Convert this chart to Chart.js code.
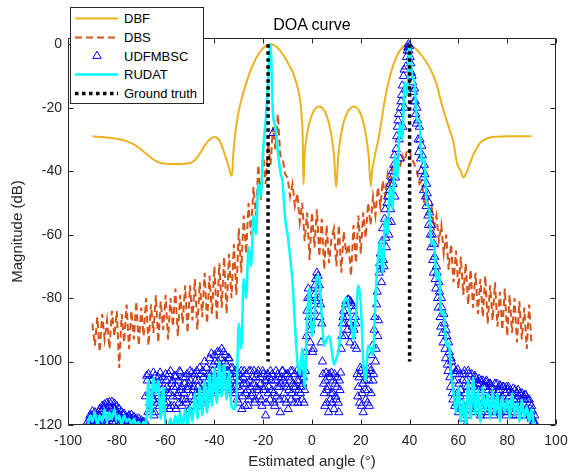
<!DOCTYPE html>
<html>
<head>
<meta charset="utf-8">
<script src="https://cdn.jsdelivr.net/npm/chart.js@4.4.0/dist/chart.umd.min.js"></script>
<style>
  html, body { margin: 0; padding: 0; background: #fff; }
  #wrap { position: relative; width: 568px; height: 472px; }
  #title { position: absolute; left: 212px; top: 15px; width: 200px; text-align: center;
           font: 16px 'Liberation Sans', Arial, sans-serif; line-height: 20px; color: #000; }
  #legend { position: absolute; left: 70px; top: 7px; width: 134px; height: 97px; box-sizing: border-box;
            border: 1px solid #262626; background: #fff; }
  #legend text { font: 13px 'Liberation Sans', Arial, sans-serif; fill: #000; }
</style>
</head>
<body>
<div id="wrap">
  <canvas id="doa" width="568" height="472"></canvas>
  <div id="title">DOA curve</div>
  <div id="legend">
    <svg width="132" height="95">
      <line x1="4" y1="10.5" x2="47" y2="10.5" stroke="#EDB120" stroke-width="2"/>
      <text x="53" y="10.5" dominant-baseline="central">DBF</text>
      <line x1="4" y1="29.5" x2="47" y2="29.5" stroke="#D95319" stroke-width="2" stroke-dasharray="7 4"/>
      <text x="53" y="29.5" dominant-baseline="central">DBS</text>
      <polygon points="26,43.2 21.8,50.4 30.2,50.4" fill="none" stroke="#0000FF" stroke-width="1"/>
      <text x="53" y="48" dominant-baseline="central">UDFMBSC</text>
      <line x1="4" y1="66.5" x2="47" y2="66.5" stroke="#00FFFF" stroke-width="2.5"/>
      <text x="53" y="66.5" dominant-baseline="central">RUDAT</text>
      <line x1="4" y1="85.5" x2="47" y2="85.5" stroke="#000" stroke-width="3.5" stroke-dasharray="3.5 3.5"/>
      <text x="53" y="85.5" dominant-baseline="central">Ground truth</text>
    </svg>
  </div>
</div>
<script>
// axis ticks
const xTicks = [-100, -80, -60, -40, -20, 0, 20, 40, 60, 80, 100];
const yTicks = [-120, -100, -80, -60, -40, -20, 0];

// DBF: angle / magnitude (dB)
const dbfAngle = [-90,-85,-80,-76,-72,-68,-65,-62,-56,-50,-48,-46,-44,-42,-40,-38,-36.5,-35,-34,-33.3,
  -32.8,-32.3,-31.6,-30.6,-29.6,-27.5,-25.5,-23,-20.5,-18.5,-17,-15.5,-13.5,-11,-9.5,-7.8,-6.3,-4.9,-4.2,-3.8,
  -3.5,-3,-2.2,-1,0.5,3,5.3,6.8,8,9,9.9,10.8,11.8,13,14.7,17.2,19.5,21,22.2,23.2,
  24.1,24.6,25.2,26.2,27.2,28.5,29.5,30.7,32.5,34.8,37,39,41,43,45,47,48.6,51,53.4,56,
  58,59.4,61,62,63,64.5,66,69,72,76,80,90];
const dbfMag = [-29,-29.3,-29.8,-30.5,-32,-34.5,-36.3,-37.4,-37.7,-37.4,-36.5,-34.5,-32,-30,-29.2,-30.2,-33,-36.5,-39,-41,
  -41.4,-35,-29,-23.5,-19.5,-13.5,-8.9,-4.5,-1.6,-0.3,0,-0.3,-1.6,-4.3,-6.4,-8.9,-12.5,-17.4,-23,-30,
  -44.2,-35,-29,-24.5,-21.3,-19.6,-21.2,-24.5,-29,-35,-45,-35,-29,-24.5,-21.2,-19.6,-21.2,-24.5,-29,-35,
  -44.7,-40,-37.5,-33.5,-30,-24,-19,-14.2,-8.5,-3.7,-1,0,-0.5,-1.8,-3.6,-5.8,-7.9,-12.5,-19.5,-26,
  -31,-37.4,-40,-42,-41,-38,-35,-31,-29.6,-29.1,-29,-29];

// DBS: one value per degree, -90 .. 90
const dbsMag = [
  -88,-95,-86,-97,-85,-93,-87,-96,-84,-92,
  -84,-102,-85,-94,-82,-96,-84,-93,-81,-95,
  -83,-92,-80,-95,-82,-91,-79,-94,-81,-90,
  -79,-93,-80,-89,-77,-92,-79,-88,-76,-91,
  -76,-87,-74,-90,-75,-86,-72,-88,-73,-85,
  -70,-87,-69,-83,-67,-85,-66,-80,-63,-79,
  -58,-72,-54,-66,-50,-60,-45,-54,-38,-49,
  -34,-44,-31,-38,-26,-33,-22,-35,-36,-41,
  -42,-48,-44,-51,-47,-56,-50,-62,-53,-68,
  -53,-64,-52,-67,-55,-71,-57,-69,-61,-58,
  -70,-57,-72,-59,-66,-63,-73,-57,-69,-54,
  -66,-53,-61,-50,-57,-48,-54,-45,-51,-43,
  -48,-41,-45,-38,-42,-37,-39,-35,-37,-33,
  -34,-36,-38,-40,-44,-43,-50,-47,-55,-51,
  -58,-54,-62,-57,-66,-60,-71,-63,-75,-65,
  -77,-67,-79,-69,-82,-71,-83,-72,-85,-74,
  -86,-73,-88,-76,-87,-75,-89,-78,-90,-77,
  -92,-79,-91,-80,-94,-81,-93,-83,-96,-82,
  -95];

// UDFMBSC: one value per half degree, -92 .. 92
const udfMag = [
  -119,-120,-117,-119.5,-115.7,-119,-116,-118.5,-116.5,-120,
  -115,-118,-114,-117.5,-113.5,-119,-113,-116,-112.8,-118,
  -112.7,-116.5,-113.2,-119,-114,-117,-115,-119.5,-116,-118.5,
  -116.5,-119.5,-117.5,-120,-117,-119,-116.8,-120,-117.5,-119.5,
  -118,-120,-118,-119.5,-118.5,-120,-119,-120,-119.5,-106,
  -104,-113,-108,-111,-103.5,-116,-107,-110,-105,-114,
  -106,-109,-111,-113,-104,-108,-110,-115,-103,-107,
  -111,-114,-105,-108,-110,-113,-103.5,-108,-112,-110,
  -105,-113,-109,-107,-103,-111,-114,-108,-104,-110,
  -112,-106,-102,-109,-113,-105,-100,-108,-111,-104,
  -99,-107,-110,-101,-98,-105,-109,-100,-97,-104,
  -96,-102,-108,-98,-101,-106,-99,-104,-109,-102,
  -105,-110,-104,-108,-113,-106,-103,-111,-107,-114,
  -104,-109,-112,-106,-103,-110,-107,-113,-105,-109,
  -103,-111,-107,-114,-104,-108,-117,-106,-110,-105,
  -103,-109,-28,-113,-106,-111,-104,-108,-116,-105,
  -103,-110,-107,-113,-104,-109,-106,-112,-103,-108,
  -104,-111,-106,-109,-103.5,-108,-112,-105,-109,-97,
  -84,-77,-80,-90,-86,-96,-79,-74,-72,-73,
  -76,-82,-88,-104,-110,-106,-113,-108,-104,-112,
  -103.5,-110,-115,-107,-112,-105,-116,-109,-96,-88,
  -84,-92,-81,-90,-80.5,-94,-81.5,-89,-84,-95,
  -88,-104,-108,-113,-103,-110,-116,-106,-112,-104,
  -109,-114,-103,-98,-106,-90,-100,-82,-92,-72,
  -66,-75,-58,-70,-52,-64,-48,-60,-44,-56,
  -40,-38,-48,-33,-26,-22,-36,-18,-13,-10,
  -20,-7,-2,0,-0.5,-6,-10,-15,-14,-22,
  -20,-30,-26,-36,-32,-42,-38,-48,-44,-54,
  -50,-60,-57,-68,-63,-74,-70,-80,-75,-86,
  -80,-91,-85,-96,-90,-101,-94,-105,-99,-110,
  -102,-114,-103,-110,-116,-104,-109,-113,-118,-103,
  -120,-108,-103,-114,-110,-104,-116,-108,-105,-113,
  -109,-105.5,-117,-110,-106,-114,-108,-106,-116,-111,
  -107,-114,-109,-117,-107,-112,-115,-109,-107.5,-116,
  -111,-108,-114,-117,-109,-108,-113,-116,-110,-108.5,
  -114,-117,-110,-109,-115,-112,-110,-117,-112,-110.5,
  -115,-117,-112,-116,-114,-118,-119,-120,null];

// UDFMBSC: second set, on the quarter-degree offsets, -91.75 .. 91.75
const udfMagB = [
  -120,-118,-120,-117,-119.5,-118,-120,-117.5,-119,-117,
  -119,-115.5,-120,-114.5,-118,-116,-119.5,-114,-117,-115,
  -119,-114.5,-118,-115.5,-120,-116.5,-118,-117.5,-120,-117,
  -120,-118,-119.5,-117.5,-120,-118,-119,-118.5,-120,-118.5,
  -120,-119,-120,-119.5,-120,-119.5,-120,-111,-104.5,-116,
  -110,-115,-106,-112,-117,-104.5,-109,-113,-107,-103.5,
  -112,-105,-115,-109,-106,-113,-104,-110,-114,-106,
  -108,-104.5,-115,-111,-106,-103,-109,-114,-105,-107,
  -112,-104,-108,-115,-106,-103.5,-109,-112,-106,-103,
  -108,-114,-104,-110,-103,-107,-112,-102,-106,-109,
  -104,-97.5,-103,-108,-100,-106,-97,-102,-107,-99,
  -104,-97,-100,-105,-103,-99,-107,-102,-106,-110,
  -108,-103,-112,-106,-104,-109,-115,-105,-103,-110,
  -107,-114,-103,-108,-111,-105,-103,-112,-108,-104,
  -109,-105,-112,-103,-109,-106,-113,-104,-108,-112,
  -106,-104,-110,-114,-103,-108,-105,-112,-107,-103,
  -106,-112,-104,-108,-115,-105,-103,-110,-107,-113,
  -108,-103,-113,-106,-110,-104,-107,-113,-103,-92,
  -80,-86,-94,-88,-97,-84,-76,-81,-77,-80,
  -86,-94,-100,-107,-114,-103.5,-109,-116,-105,-110,
  -113,-106,-104,-111,-108,-113,-106,-103.5,-92,-86,
  -88,-82,-86,-80.5,-88,-81,-92,-82.5,-90,-86,
  -96,-111,-105,-102,-114,-107,-104,-109,-103,-113,
  -106,-102,-110,-95,-104,-86,-96,-78,-87,-69,
  -71,-62,-68,-55,-61,-50,-56,-46,-52,-42,
  -44,-35,-42,-29,-24,-30,-20,-16,-26,-8,
  -14,-4,-1,-2,-4,-9,-12,-18,-18,-25,
  -24,-34,-30,-40,-35,-46,-41,-51,-47,-57,
  -53,-64,-60,-72,-67,-77,-72,-83,-78,-89,
  -83,-94,-88,-99,-92,-103,-97,-108,-100,-112,
  -106,-104,-113,-102.5,-107,-111,-115,-106,-104,-110,
  -106,-117,-104,-108,-113,-106,-111,-104.5,-115,-107,
  -113,-107,-106,-115,-108,-112,-106.5,-117,-109,-107,
  -111,-108,-116,-110,-113,-107,-110,-116,-108,-112,
  -108,-115,-110,-108,-116,-111,-109,-114,-117,-112,
  -109,-112,-116,-111,-110,-114,-117,-111,-110.5,-115,
  -112,-116,-113,-118,-115.5,-119,-117,-120];

// RUDAT: one value per degree, -92 .. 92
const rudatMag = [
  -121,-117,-119,-116,-120,-117,-119,-115,-119,-116,
  -118,-115,-119,-117,-120,-117,-119,-118,-120,-118,
  -120,-119,-121,-119,-120,-106,-118,-105,-110,-106,
  -118,-108,-120,-121,-118,-121,-117,-121,-116,-121,
  -115,-120,-114,-119,-110,-118,-108,-117,-106,-116,
  -104,-114,-102,-113,-100,-111,-101,-112,-103,-114,
  -115,-112,-88,-96,-74,-80,-64,-70,-54,-60,
  -44,-48,-33,-24,-12,0,-22,-26,-34,-40,
  -44,-55,-60,-67,-75,-88,-100,-104,-96,-108,
  -86,-77,-92,-86,-73,-74,-86,-95,-93,-92,
  -96,-101,-99,-96,-88,-82,-80,-82,-88,-93,
  -86,-76,-82,-100,-106,-95,-96,-98,-80,-68,
  -62,-72,-55,-60,-45,-52,-35,-42,-25,-30,
  -12,-16,0,-10,-12,-24,-24,-37,-36,-50,
  -52,-63,-62,-74,-72,-85,-84,-95,-94,-104,
  -110,-116,-108,-119,-112,-120,-106,-118,-105,-117,
  -109,-119,-108,-116,-110,-118,-109,-117,-110,-119,
  -111,-116,-112,-118,-110,-117,-113,-119,-112,-118,
  -114,-119,-115,-120,-121];

// ground truth directions
const gtAngle = [-18, 40];
const gtTop = 0, gtBottom = -100;

function angleGrid(start, end, step) {
  const out = [];
  for (let a = start; a <= end + 1e-9; a += step) out.push(Math.round(a * 100) / 100);
  return out;
}
const dbsAngle = angleGrid(-90, 90, 1);
const udfAngle = angleGrid(-92, 92, 0.5);
const udfAngleB = angleGrid(-91.75, 91.75, 0.5);
const rudatAngle = angleGrid(-92, 92, 1);

const pts = (xs, ys) => xs.map((x, i) => ({ x: x, y: ys[i] })).filter(p => p.y !== null && p.y !== undefined);

const gtData = [];
gtAngle.forEach((a, i) => {
  if (i > 0) gtData.push({ x: (gtAngle[i - 1] + a) / 2, y: null });
  gtData.push({ x: a, y: gtTop }, { x: a, y: gtBottom });
});

const FONT = "'Liberation Sans', Arial, Helvetica, sans-serif";
const AX = '#262626';

// MATLAB-like box with inward ticks
const frame = {
  id: 'frame',
  afterDraw(chart) {
    const { ctx, chartArea: a, scales } = chart;
    const L = Math.round(a.left) + 0.5, R = Math.round(a.right) - 0.5;
    const T = Math.round(a.top) + 0.5, B = Math.round(a.bottom) - 0.5;
    ctx.save();
    ctx.strokeStyle = AX;
    ctx.lineWidth = 1;
    ctx.beginPath();
    ctx.rect(L, T, R - L, B - T);
    xTicks.forEach(v => {
      const px = Math.round(scales.x.getPixelForValue(v)) + 0.5;
      ctx.moveTo(px, B); ctx.lineTo(px, B - 5);
      ctx.moveTo(px, T); ctx.lineTo(px, T + 5);
    });
    yTicks.forEach(v => {
      const py = Math.round(scales.y.getPixelForValue(v)) + 0.5;
      ctx.moveTo(L, py); ctx.lineTo(L + 5, py);
      ctx.moveTo(R, py); ctx.lineTo(R - 5, py);
    });
    ctx.stroke();
    ctx.restore();
  }
};

new Chart(document.getElementById('doa'), {
  type: 'line',
  data: {
    datasets: [
      { label: 'DBF', data: pts(dbfAngle, dbfMag), borderColor: '#EDB120', borderWidth: 2,
        pointRadius: 0, cubicInterpolationMode: 'monotone', fill: false, order: 5, clip: 0 },
      { label: 'DBS', data: pts(dbsAngle, dbsMag), borderColor: '#D95319', borderWidth: 2,
        borderDash: [7, 4], pointRadius: 0, tension: 0, fill: false, order: 4, clip: 0 },
      { label: 'UDFMBSC', data: pts(udfAngle, udfMag).concat(pts(udfAngleB, udfMagB)), showLine: false,
        pointStyle: 'triangle', pointRadius: 4.8, pointBorderWidth: 1, pointBorderColor: '#0000FF',
        pointBackgroundColor: 'rgba(0,0,0,0)', borderColor: '#0000FF', order: 3, clip: 0 },
      { label: 'RUDAT', data: pts(rudatAngle, rudatMag), borderColor: '#00FFFF', borderWidth: 2.5,
        pointRadius: 0, cubicInterpolationMode: 'monotone', fill: false, order: 2, clip: 0 },
      { label: 'Ground truth', data: gtData, borderColor: '#000000', borderWidth: 3.5,
        borderDash: [3.5, 3.5], borderCapStyle: 'butt', pointRadius: 0, spanGaps: false,
        fill: false, order: 1, clip: 0 }
    ]
  },
  options: {
    responsive: false,
    animation: false,
    devicePixelRatio: 1,
    layout: { padding: { left: 0, right: 12, top: 38, bottom: 0 } },
    plugins: { legend: { display: false }, tooltip: { enabled: false }, title: { display: false } },
    events: [],
    scales: {
      x: {
        type: 'linear', min: -100, max: 100,
        afterBuildTicks: s => { s.ticks = xTicks.map(v => ({ value: v })); },
        afterFit: s => { s.height = 47; s.paddingLeft = 0; s.paddingRight = 0; },
        grid: { display: false, drawTicks: false },
        border: { display: false },
        ticks: { padding: 8, color: AX, font: { family: FONT, size: 14 }, maxRotation: 0, autoSkip: false,
                 callback: v => String(v) },
        title: { display: true, text: 'Estimated angle (°)', color: AX, font: { family: FONT, size: 15 },
                 padding: { top: 0, bottom: 1 } }
      },
      y: {
        type: 'linear', min: -120, max: 2,
        afterBuildTicks: s => { s.ticks = yTicks.map(v => ({ value: v })); },
        afterFit: s => { s.width = 68; s.paddingTop = 0; s.paddingBottom = 0; },
        grid: { display: false, drawTicks: false },
        border: { display: false },
        ticks: { padding: 6, color: AX, font: { family: FONT, size: 14 }, autoSkip: false,
                 callback: v => String(v) },
        title: { display: true, text: 'Magnitude (dB)', color: AX, font: { family: FONT, size: 15 },
                 padding: { top: 9, bottom: 0 } }
      }
    }
  },
  plugins: [frame]
});
</script>
</body>
</html>
